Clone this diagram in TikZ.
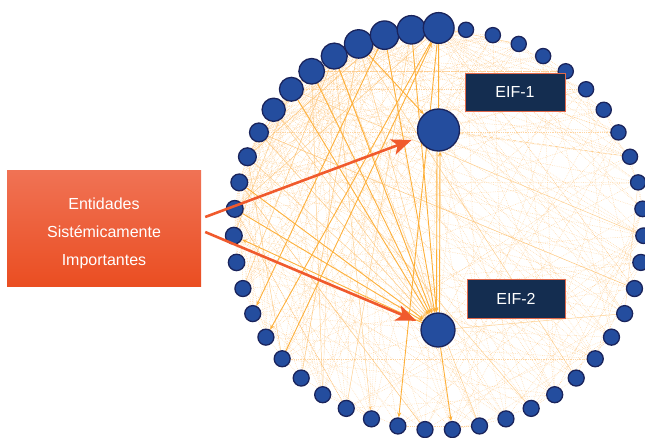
\documentclass[tikz,border=0pt]{standalone}
\usepackage{fontspec}
\setmainfont{Liberation Sans}
\usetikzlibrary{arrows.meta,calc}
\pgfdeclarelayer{bg}
\pgfsetlayers{bg,main}
\definecolor{nodeblue}{RGB}{36,77,158}
\definecolor{nodeedge}{RGB}{26,36,92}
\definecolor{faint}{RGB}{253,196,125}
\definecolor{midc}{RGB}{253,188,98}
\definecolor{strongc}{RGB}{253,176,58}
\definecolor{redar}{RGB}{240,90,45}
\definecolor{labelbg}{RGB}{20,45,80}
\definecolor{labelframe}{RGB}{225,105,75}
\definecolor{boxtop}{RGB}{240,114,84}
\definecolor{boxbot}{RGB}{234,78,34}
\begin{document}
\begin{tikzpicture}[x=1pt,y=1pt,
  netnode/.style={circle,fill=nodeblue,draw=nodeedge,line width=1.3pt,inner sep=0pt},
  faintedge/.style={draw=faint,line width=0.45pt,dash pattern=on 0.7pt off 1.1pt,opacity=0.7},
  midedge/.style={draw=midc,line width=0.5pt,opacity=0.7},
  strongedge/.style={draw=strongc,line width=0.9pt,-{Stealth[length=5pt,width=4pt]}},
  strongline/.style={draw=strongc,line width=0.9pt},
  eiflabel/.style={fill=labelbg,draw=labelframe,line width=0.8pt,text=white,
    font=\fontsize{16}{19}\selectfont,minimum width=100pt,minimum height=38pt,inner sep=0pt},
  sibox/.style={top color=boxtop,bottom color=boxbot,minimum width=194pt,minimum height=115pt,inner sep=0pt},
  sitext/.style={text=white,align=center,font=\fontsize{16}{28}\selectfont,inner sep=0pt},
  redarrow/.style={draw=redar,line width=2.6pt,-{Stealth[length=20pt,width=16pt,inset=5pt]}},
]
\useasboundingbox (0,0) rectangle (645,437);
% ring of nodes: index / diameter
\foreach \k/\d in {1/15.2,2/15.2,3/15.2,4/15.2,5/15.2,6/15.2,7/15.2,8/15.2,9/15.2,10/15.2,
  11/15.6,12/15.6,13/16,14/16,15/16,16/16,17/16,18/16,19/16,20/16,21/16,22/16,23/16,24/16,
  25/16,26/16,27/16,28/16,29/16,30/16,31/16,32/16,33/16,34/16.4,35/16.8,36/16.8,37/16.8,
  38/17.8,39/18.8,40/23.2,41/23.8,42/25.6,43/26,44/28.4,45/28.4,46/28.4,0/30.8}{
  \pgfmathsetmacro{\ang}{90-\k*7.659574}
  \pgfmathsetmacro{\px}{438.7+205*cos(\ang)}
  \pgfmathsetmacro{\py}{208+201*sin(\ang)}
  \node[netnode,minimum size=\d pt] (n\k) at (\px,\py) {};
}
% central nodes
\node[netnode,minimum size=42pt] (E1) at (438.5,307) {};
\node[netnode,minimum size=34pt] (E2) at (438,107) {};
% labels
\node[eiflabel] (L1) at (515,345) {EIF-1};
\node[eiflabel,minimum width=98pt,minimum height=39pt] (L2) at (516,138.5) {EIF-2};
\node[sibox] (SIE) at (104,208.5) {};
\node[sitext] (SIEtext) at ($(SIE.center)+(0,-5)$) {Entidades\\Sistémicamente\\Importantes};
% edges in background
\begin{pgfonlayer}{bg}
  % faint mesh from the large nodes
  \foreach \s in {36,...,46,0}{
    \foreach \t in {1,...,16}{
      \pgfmathtruncatemacro{\tg}{mod(\s*7+\t*\t*5+\t*3+2,47)}
      \ifnum\tg=\s\else \draw[faintedge] (n\s) -- (n\tg); \fi
    }
  }
  % sparse faint mesh among the other nodes
  \foreach \s in {1,...,35}{
    \foreach \t in {1,2,3}{
      \pgfmathtruncatemacro{\tg}{mod(\s+9+\t*13+\s*\t*3,47)}
      \ifnum\tg=\s\else \draw[faintedge] (n\s) -- (n\tg); \fi
    }
  }
  % faint edges of the central nodes
  \foreach \t in {2,6,9,13,17,20,24,28,33,37,41,44}{ \draw[faintedge] (E1) -- (n\t); }
  \foreach \t in {1,5,8,11,16,19,22,26,29,32,34,39,43}{ \draw[faintedge] (E2) -- (n\t); }
  % thin solid edges
  \foreach \s/\t in {40/20,41/12,42/28,43/33,44/18,45/38,46/27,39/14,38/30,37/24,0/36,44/29,41/35,43/22}{
    \draw[midedge] (n\s) -- (n\t);
  }
  \foreach \s in {38,39,40,44}{ \draw[midedge,-{Stealth[length=4pt,width=3pt]}] (n\s) -- (E2); }
  \draw[midedge,-{Stealth[length=4pt,width=3pt]}] (n43) -- (n26);
  \draw[midedge] (E2) -- (n15);
  \draw[midedge] (n0) -- (n3);
  \draw[midedge,dashed] (E1) -- (n9);
  % strong edges
  \draw[strongline] (n0) -- (E1);
  \draw[strongedge] ([xshift=-1.5pt]E1.south) -- ([xshift=-1.5pt]E2.north);
  \draw[strongedge] ([xshift=1.5pt]E2.north) -- ([xshift=1.5pt]E1.south);
  \draw[strongedge] (n30) -- (n0);
  \draw[strongedge] (n0) -- (n31);
  \draw[strongedge] (n45) -- (n32);
  \draw[strongedge] (n0) -- (n25);
  \draw[strongedge] (E2) -- (n35);
  \draw[strongedge] (E2) -- (n23);
  \draw[strongedge] (n44) -- (E1);
  \foreach \s in {36,37,41,42,43,45,46}{ \draw[strongedge] (n\s) -- (E2); }
\end{pgfonlayer}
% red arrows
\coordinate (a1) at ($(SIE.east)+(4,11.5)$);
\coordinate (a2) at ($(SIE.east)+(4,-3.5)$);
\draw[redarrow,shorten >=7pt] (a1) -- (E1);
\draw[redarrow,shorten >=6pt] (a2) -- (E2);
\end{tikzpicture}
\end{document}
